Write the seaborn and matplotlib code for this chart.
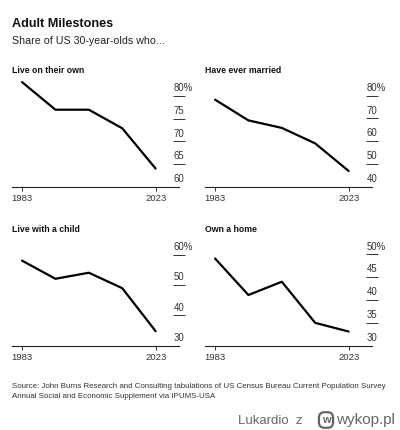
import pandas as pd
import matplotlib.pyplot as plt
import seaborn as sns

# Valeurs (part des 30 ans, en %)
years = [1983, 1993, 2003, 2013, 2023]
own_place = [83.1, 77.0, 77.0, 72.9, 64.0]
ever_married = [78.2, 69.1, 65.8, 59.0, 46.9]
with_child = [58.1, 52.1, 54.1, 49.0, 34.8]
own_home = [49.1, 41.1, 44.0, 35.0, 33.1]

titles = ["Live on their own", "Have ever married", "Live with a child", "Own a home"]
y_ticks = [[60, 65, 70, 75, 80], [40, 50, 60, 70, 80], [30, 40, 50, 60], [30, 35, 40, 45, 50]]
y_tops = [84, 87.7, 65.9, 53.8]

sns.set_theme(style="white")
plt.rcParams['font.family'] = ['Liberation Sans', 'DejaVu Sans']

df = pd.DataFrame({
    'year': years * 4,
    'value': own_place + ever_married + with_child + own_home,
    'panel': [t for t in titles for _ in years],
})

W, H = 400, 430
fig = plt.figure(figsize=(W / 100, H / 100), dpi=100)
fig.patch.set_facecolor('white')

fig.text(12 / W, 1 - 24 / H, "Adult Milestones", fontsize=9.1, fontweight='bold',
         color='#111111', va='center', ha='left')
fig.text(12 / W, 1 - 41.5 / H, "Share of US 30-year-olds who...", fontsize=7.7,
         color='#222222', va='center', ha='left')

# positions des panneaux en pixels : (gauche, bas de l'axe)
positions = [(12, 186.7), (205, 186.7), (12, 345.7), (205, 345.7)]
ax_w, ax_h = 167, 108.7

for i, title in enumerate(titles):
    left, base = positions[i]
    ax = fig.add_axes([left / W, 1 - base / H, ax_w / W, ax_h / H])
    sub = df[df['panel'] == title]
    sns.lineplot(data=sub, x='year', y='value', ax=ax, color='black', linewidth=1.6)

    ticks = y_ticks[i]
    ax.set_xlim(1980, 2030)
    ax.set_ylim(ticks[0], y_tops[i])
    ax.set_xlabel('')
    ax.set_ylabel('')
    for s in ['top', 'right', 'left']:
        ax.spines[s].set_visible(False)
    ax.spines['bottom'].set_color('#222222')
    ax.spines['bottom'].set_linewidth(0.8)

    ax.set_xticks([1983, 2023])
    ax.set_xticklabels(['1983', '2023'])
    ax.tick_params(axis='x', length=3, width=0.7, color='#333333', pad=2.5,
                   labelsize=6.8, labelcolor='#333333', bottom=True)

    ax.yaxis.tick_right()
    ax.set_yticks(ticks[1:])
    ax.set_yticklabels([])
    ax.tick_params(axis='y', direction='inout', length=9, width=0.7, color='#333333',
                   right=True, left=False)
    for j, v in enumerate(ticks):
        lbl = f"{v}%" if j == len(ticks) - 1 else f"{v}"
        ax.annotate(lbl, xy=(1, v), xycoords=('axes fraction', 'data'),
                    xytext=(-4, 2.0), textcoords='offset points',
                    ha='left', va='bottom', fontsize=6.9, color='#333333',
                    annotation_clip=False)

    fig.text(left / W, 1 - (base - 116.5) / H, title, fontsize=6.3, fontweight='bold',
             color='#111111', va='center', ha='left')

fig.text(12 / W, 1 - 386 / H,
         "Source: John Burns Research and Consulting tabulations of US Census Bureau Current Population Survey",
         fontsize=5.65, color='#333333', va='center', ha='left')
fig.text(12 / W, 1 - 396 / H, "Annual Social and Economic Supplement via IPUMS-USA",
         fontsize=5.65, color='#333333', va='center', ha='left')

# filigrane en bas à droite
fig.text(302 / W, 1 - 421 / H, "Lukardio  z", fontsize=9.5, color='#666666',
         va='center', ha='right')
fig.text(326 / W, 1 - 420 / H, "w", fontsize=8, fontweight='bold', color='#666666',
         va='center', ha='center',
         bbox=dict(boxstyle='round,pad=0.25,rounding_size=0.5', fc='none', ec='#666666', lw=1.6))
fig.text(395 / W, 1 - 420 / H, "wykop.pl", fontsize=11, color='#666666',
         va='center', ha='right')

fig.savefig('out.png', dpi=100, facecolor='white')
